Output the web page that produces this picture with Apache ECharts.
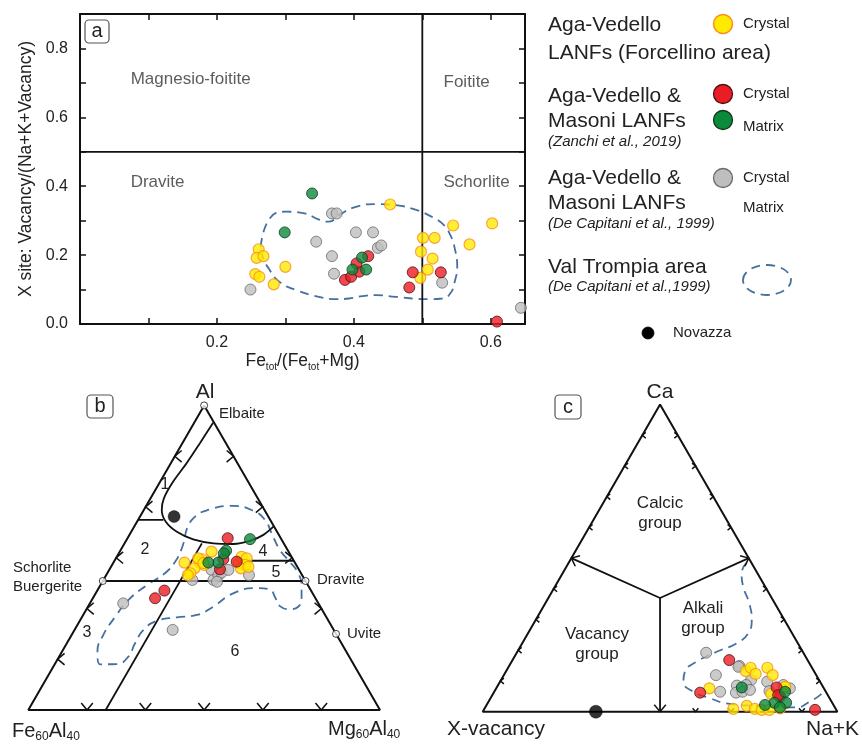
<!DOCTYPE html>
<html><head><meta charset="utf-8">
<script src="https://cdn.jsdelivr.net/npm/echarts@6/dist/echarts.min.js"></script>
<style>html,body{margin:0;padding:0;background:#fff}#c{width:862px;height:745px}</style>
</head><body><div id="c"></div>
<script>
// ---------------- Panel a : [Fe_tot/(Fe_tot+Mg), X-site vacancy/(Na+K+vacancy)]
const xTickLabels = ['0.2', '0.4', '0.6'];
const yTickLabels = ['0.0', '0.2', '0.4', '0.6', '0.8'];
const aRegionNames = ['Magnesio-foitite', 'Foitite', 'Dravite', 'Schorlite'];
const aYellow = [[0.261,0.217],[0.258,0.192],[0.268,0.197],[0.256,0.145],[0.262,0.137],[0.283,0.115],[0.300,0.166],
  [0.453,0.347],[0.501,0.250],[0.518,0.250],[0.498,0.210],[0.515,0.190],[0.508,0.158],[0.497,0.134],
  [0.545,0.286],[0.602,0.292],[0.569,0.231]];
const aRed = [[0.387,0.128],[0.396,0.137],[0.408,0.152],[0.404,0.176],[0.421,0.197],[0.486,0.150],[0.481,0.106],[0.527,0.150],[0.609,0.007]];
const aGreen = [[0.339,0.379],[0.299,0.266],[0.412,0.193],[0.398,0.158],[0.418,0.158]];
const aGray = [[0.249,0.100],[0.368,0.321],[0.375,0.321],[0.345,0.239],[0.403,0.266],[0.428,0.266],[0.435,0.221],[0.440,0.228],
  [0.368,0.197],[0.371,0.146],[0.529,0.120],[0.644,0.047]];
const aValTrompia = [[0.264,0.224],[0.277,0.306],[0.301,0.326],[0.328,0.321],[0.349,0.303],[0.364,0.297],[0.378,0.316],[0.403,0.340],
  [0.432,0.348],[0.461,0.345],[0.490,0.332],[0.509,0.316],[0.529,0.292],[0.541,0.258],[0.548,0.214],[0.551,0.166],[0.548,0.128],
  [0.541,0.089],[0.529,0.074],[0.509,0.072],[0.461,0.079],[0.432,0.084],[0.412,0.081],[0.393,0.074],[0.374,0.072],[0.349,0.079],
  [0.315,0.099],[0.291,0.123],[0.277,0.157],[0.267,0.195],[0.264,0.224]];

// ---------------- Panel b : ternary [Al, Fe60Al40, Mg60Al40]
const bYellow = [[0.520,0.219,0.261],[0.484,0.314,0.202],[0.495,0.258,0.247],[0.484,0.270,0.246],[0.476,0.262,0.262],[0.465,0.295,0.240],
  [0.449,0.315,0.236],[0.443,0.325,0.232],[0.498,0.268,0.234],[0.482,0.261,0.257],[0.503,0.142,0.355],[0.498,0.130,0.372],[0.482,0.160,0.358],
  [0.476,0.146,0.378],[0.465,0.163,0.372],[0.470,0.139,0.391]];
const bRed = [[0.367,0.456,0.177],[0.392,0.417,0.191],[0.564,0.151,0.285],[0.495,0.198,0.307],[0.462,0.224,0.314],[0.487,0.164,0.349]];
const bGreen = [[0.561,0.089,0.350],[0.523,0.176,0.301],[0.514,0.187,0.299],[0.484,0.218,0.298],[0.484,0.246,0.270]];
const bGray = [[0.350,0.555,0.095],[0.263,0.458,0.279],[0.427,0.320,0.253],[0.460,0.249,0.291],[0.427,0.260,0.313],[0.443,0.238,0.319],
  [0.451,0.225,0.324],[0.421,0.253,0.326],[0.460,0.201,0.339],[0.443,0.151,0.406]];
const bNovazza = [[0.635,0.268,0.097]];
const bEndMembers = [[1,0,0],[0.4235,0.5765,0],[0.4235,0,0.5765],[0.25,0,0.75]]; // Elbaite, Schorlite-Buergerite, Dravite, Uvite
const bCurve = [[0.943,0.003,0.054],[0.876,0.074,0.050],[0.810,0.145,0.045],[0.750,0.213,0.037],[0.695,0.267,0.038],[0.657,0.292,0.051],
  [0.618,0.300,0.082],[0.585,0.285,0.130],[0.560,0.251,0.189],[0.547,0.200,0.253],[0.545,0.145,0.310],[0.555,0.092,0.353],
  [0.575,0.044,0.381],[0.602,0.002,0.396]];
const bSchDrv = [[0.4235,0.5765,0],[0.4235,0,0.5765]];
const bDiagonal = [[0,0.78,0.22],[0.547,0.233,0.22]];
const bLeftShort = [[0.624,0.376,0],[0.624,0.304,0.072]];
const bRightShort = [[0.49,0.15,0.36],[0.49,0,0.51]];
const bTicks = [0.167,0.333,0.5,0.667,0.833];
const bRightTicks = [0.333,0.5,0.667,0.833];
const bValTrompia = [[0.569,0.270,0.161],[0.624,0.223,0.153],[0.659,0.154,0.187],[0.670,0.082,0.248],[0.654,0.033,0.313],[0.624,0.015,0.361],
  [0.580,0.018,0.402],[0.525,0.022,0.453],[0.487,0.013,0.500],[0.449,0.008,0.543],[0.410,0.018,0.572],[0.372,0.037,0.591],[0.339,0.063,0.598],
  [0.331,0.091,0.578],[0.341,0.114,0.545],[0.372,0.113,0.515],[0.396,0.115,0.489],[0.400,0.151,0.449],[0.383,0.226,0.391],[0.339,0.305,0.356],
  [0.312,0.365,0.323],[0.304,0.426,0.270],[0.293,0.488,0.219],[0.263,0.541,0.196],[0.219,0.587,0.194],[0.175,0.628,0.197],[0.151,0.673,0.176],
  [0.150,0.721,0.129],[0.191,0.708,0.101],[0.246,0.664,0.090],[0.306,0.600,0.094],[0.361,0.535,0.104],[0.410,0.458,0.132],[0.449,0.387,0.164],
  [0.487,0.339,0.174],[0.531,0.298,0.171],[0.569,0.270,0.161]];

// ---------------- Panel c : ternary [Ca, X-vacancy, Na+K]
const cYellow = [[0.132,0.192,0.676],[0.143,0.173,0.684],[0.123,0.169,0.708],[0.143,0.126,0.731],[0.119,0.123,0.758],[0.076,0.323,0.601],
  [0.079,0.108,0.813],[0.058,0.158,0.784],[0.081,0.107,0.812],[0.009,0.289,0.702],[0.019,0.246,0.735],[0.009,0.228,0.763],[0.006,0.210,0.784],
  [0.006,0.189,0.805],[0.011,0.156,0.833]];
const cRed = [[0.168,0.221,0.611],[0.062,0.356,0.582],[0.079,0.132,0.789],[0.049,0.137,0.814],[0.054,0.140,0.806],[0.006,0.060,0.934]];
const cGreen = [[0.079,0.230,0.691],[0.029,0.130,0.841],[0.029,0.163,0.808],[0.022,0.193,0.785],[0.014,0.155,0.831],[0.065,0.115,0.820]];
const cGray = [[0.192,0.274,0.534],[0.149,0.202,0.649],[0.146,0.206,0.648],[0.103,0.192,0.705],[0.087,0.214,0.699],[0.085,0.241,0.674],
  [0.062,0.255,0.683],[0.065,0.235,0.700],[0.071,0.211,0.718],[0.065,0.298,0.637],[0.119,0.283,0.598],[0.098,0.149,0.753],[0.067,0.158,0.775],
  [0.087,0.109,0.804],[0.076,0.096,0.828]];
const cNovazza = [[0,0.681,0.319]];
const cCentre = [0.37,0.315,0.315];
const cEdgeMids = [[0.5,0.5,0],[0.5,0,0.5],[0,0.5,0.5]];
const cSideTicks = [0.1,0.2,0.3,0.4,0.6,0.7,0.8,0.9];
const cBaseTicks = [0.6,0.7,0.8,0.9];
const cValTrompia = [[0.485,0.013,0.502],[0.450,0.045,0.505],[0.407,0.062,0.531],[0.353,0.072,0.575],[0.299,0.092,0.609],[0.255,0.124,0.621],
  [0.223,0.172,0.605],[0.195,0.243,0.562],[0.163,0.315,0.522],[0.130,0.365,0.505],[0.098,0.385,0.517],[0.065,0.374,0.561],[0.044,0.337,0.619],
  [0.027,0.299,0.674],[0.019,0.208,0.773],[0.014,0.108,0.878],[0.033,0.061,0.906],[0.054,0.022,0.924],[0.071,0.000,0.929]];

// ---------------- helpers
const GA = 0, GB = 2, GC = 3; // axis indices for panels a, b, c
const FONT = '"Liberation Sans", Arial, Helvetica, sans-serif';
const S = Math.sqrt(3) / 2;
const tern = p => [p[2] + p[0] / 2, p[0] * S];
const T = arr => arr.map(tern);
const ST = {
  yellow: {color:'#FFEA00', borderColor:'#F7901E', borderWidth:1.2},
  red: {color:'#EC1C24', borderColor:'#4a1212', borderWidth:1},
  green: {color:'#0B8A3C', borderColor:'#16361b', borderWidth:1},
  gray: {color:'#BEBEBE', borderColor:'#6a6a6a', borderWidth:1},
  black: {color:'#000', borderColor:'#000', borderWidth:0.5}
};
const DASH = {color:'#45709f', width:1.8, type:[9,6]};
function scat(data, g, st, size, z) {
  return {type:'scatter', xAxisIndex:g, yAxisIndex:g, data, symbolSize:size, itemStyle:st, clip:false, silent:true, z:z || 5};
}
function ln(data, g, extra) {
  return Object.assign({type:'line', xAxisIndex:g, yAxisIndex:g, data, symbol:'none', showSymbol:false, clip:false, silent:true,
    lineStyle:{color:'#111', width:1.8}, z:3}, extra || {});
}
function chevrons(data, g) {
  return {type:'custom', xAxisIndex:g, yAxisIndex:g, data, clip:false, silent:true, z:4,
    renderItem(params, api) {
      const p = api.coord([api.value(0), api.value(1)]);
      const a = api.value(2) * Math.PI / 180, L = api.value(3);
      const bx = -Math.cos(a), by = Math.sin(a), sp = 40 * Math.PI / 180;
      const r = s => [bx * Math.cos(s) - by * Math.sin(s), bx * Math.sin(s) + by * Math.cos(s)];
      const r1 = r(sp), r2 = r(-sp);
      return {type:'polyline', shape:{points:[[p[0] + r1[0] * L, p[1] + r1[1] * L], [p[0], p[1]], [p[0] + r2[0] * L, p[1] + r2[1] * L]]},
        style:{stroke:'#111', lineWidth:1.5, fill:null}};
    }};
}
const chev = (p, ang, len) => { const q = tern(p); return [q[0], q[1], ang, len]; };
const angleTo = (from, to) => { const a = tern(from), b = tern(to); return Math.atan2(b[1] - a[1], b[0] - a[0]) * 180 / Math.PI; };

const bChevData = [].concat(
  bTicks.map(f => chev([f, 1 - f, 0], 180, 9)),
  bRightTicks.map(f => chev([f, 0, 1 - f], 0, 9)),
  bTicks.map(f => chev([0, 1 - f, f], 270, 9)));
const cChevData = [].concat(
  cSideTicks.map(f => chev([f, 1 - f, 0], 180, 4.5)),
  cSideTicks.map(f => chev([f, 0, 1 - f], 0, 4.5)),
  cBaseTicks.map(f => chev([0, 1 - f, f], 270, 4.5)),
  cEdgeMids.map(m => chev(m, angleTo(cCentre, m), 9)));

const fmt = list => v => {
  if (Math.abs(v * 10 - Math.round(v * 10)) > 1e-6) return '';
  const s = v.toFixed(1); return list.indexOf(s) >= 0 ? s : '';
};
const frameAxis = {show:true, onZero:false, lineStyle:{color:'#111', width:2}};
const frameTick = {show:true, inside:true, length:6, lineStyle:{color:'#111', width:1.5}};
const hidden = g => ({gridIndex:g, type:'value', min:0, max:1, show:false});

function txt(x, y, text, size, extra) {
  return {type:'text', x, y, silent:true, z:10,
    style:Object.assign({text, fill:'#222', font:size + 'px ' + FONT, textAlign:'left', align:'left',
      textVerticalAlign:'middle', verticalAlign:'middle'}, extra || {})};
}
function richTxt(x, y, text, big, small) {
  return {type:'text', x, y, silent:true, z:10,
    style:{text, textAlign:'left', align:'left', textVerticalAlign:'middle', verticalAlign:'middle',
      rich:{m:{fontSize:big, fontFamily:FONT, fill:'#222', color:'#222', lineHeight:big + 4, verticalAlign:'middle'},
            s:{fontSize:small, fontFamily:FONT, fill:'#222', color:'#222', lineHeight:small + 2, verticalAlign:'bottom'}}}};
}
function box(x, y, w, h, letter) {
  return [{type:'rect', shape:{x, y, width:w, height:h, r:4}, style:{fill:'#fff', stroke:'#555', lineWidth:1.2}, z:9, silent:true},
          txt(x + w / 2, y + h / 2, letter, 20, {textAlign:'center', align:'center'})];
}
function dot(cx, cy, r, st) {
  return {type:'circle', shape:{cx, cy, r}, style:{fill:st.color, stroke:st.borderColor, lineWidth:st.borderWidth + 0.3}, z:10, silent:true};
}
const C = {textAlign:'center', align:'center'};

const graphic = [].concat(
  box(85, 20, 24, 23, 'a'), box(87, 395, 26, 23, 'b'), box(555, 395, 26, 24, 'c'),
  // legend
  txt(548, 25, 'Aga-Vedello', 21), txt(548, 53, 'LANFs (Forcellino area)', 21),
  txt(548, 96, 'Aga-Vedello &', 21), txt(548, 121, 'Masoni LANFs', 21), txt(548, 142, '(Zanchi et al., 2019)', 15, {font:'italic 15px ' + FONT}),
  txt(548, 178, 'Aga-Vedello &', 21), txt(548, 203, 'Masoni LANFs', 21), txt(548, 224, '(De Capitani et al., 1999)', 15, {font:'italic 15px ' + FONT}),
  txt(548, 267, 'Val Trompia area', 21), txt(548, 287, '(De Capitani et al.,1999)', 15, {font:'italic 15px ' + FONT}),
  dot(723, 24, 9.5, ST.yellow), dot(723, 94, 9.5, ST.red), dot(723, 120, 9.5, ST.green), dot(723, 178, 9.5, ST.gray),
  txt(743, 24, 'Crystal', 15), txt(743, 94, 'Crystal', 15), txt(743, 127, 'Matrix', 15), txt(743, 178, 'Crystal', 15), txt(743, 208, 'Matrix', 15),
  [{type:'ellipse', shape:{cx:767, cy:280, rx:24, ry:15}, style:{fill:null, stroke:DASH.color, lineWidth:1.8, lineDash:[9,6]}, z:10, silent:true}],
  dot(648, 333, 6, ST.black), txt(673, 333, 'Novazza', 15),
  // panel b labels
  txt(205, 392, 'Al', 21, C), txt(219, 414, 'Elbaite', 15),
  txt(13, 568, 'Schorlite', 15), txt(13, 587, 'Buergerite', 15), txt(317, 580, 'Dravite', 15), txt(347, 634, 'Uvite', 15),
  richTxt(12, 731, '{m|Fe}{s|60}{m|Al}{s|40}', 20, 12), richTxt(328, 729, '{m|Mg}{s|60}{m|Al}{s|40}', 20, 12),
  txt(165, 485, '1', 16, C), txt(145, 550, '2', 16, C), txt(87, 633, '3', 16, C),
  txt(263, 552, '4', 16, C), txt(276, 573, '5', 16, C), txt(235, 652, '6', 16, C),
  // panel c labels
  txt(660, 392, 'Ca', 21, C),
  txt(660, 503, 'Calcic', 17, C), txt(660, 523, 'group', 17, C),
  txt(703, 608, 'Alkali', 17, C), txt(703, 628, 'group', 17, C),
  txt(597, 634, 'Vacancy', 17, C), txt(597, 654, 'group', 17, C),
  txt(447, 729, 'X-vacancy', 21), txt(806, 729, 'Na+K', 21)
);

const aLabelSeries = {type:'scatter', xAxisIndex:GA, yAxisIndex:GA, symbolSize:0, silent:true, z:6,
  data:[[0.074,0.71],[0.531,0.703],[0.074,0.412],[0.531,0.412]].map((v, i) => ({name:aRegionNames[i], value:v})),
  label:{show:true, formatter:'{b}', position:[0,0], align:'left', verticalAlign:'middle', fontSize:17, color:'#333', fontFamily:FONT}};

const option = {
  backgroundColor:'#fff', animation:false,
  grid:[
    {left:80, top:14, width:445, height:310},
    {left:28.3, top:358.3, width:351.7, height:351.7},
    {left:482.7, top:357, width:354.7, height:354.7}
  ],
  xAxis:[
    {gridIndex:0, type:'value', min:0, max:0.65, interval:0.1, position:'bottom', axisLine:frameAxis, axisTick:frameTick, splitLine:{show:false},
     axisLabel:{margin:11, fontSize:16, color:'#222', fontFamily:FONT, formatter:fmt(xTickLabels), showMaxLabel:false},
     name:'{m|Fe}{s|tot}{m|/(Fe}{s|tot}{m|+Mg)}', nameLocation:'middle', nameGap:20,
     nameTextStyle:{rich:{m:{fontSize:17.5, fontFamily:FONT, color:'#222', lineHeight:22, verticalAlign:'middle'},
                          s:{fontSize:10, fontFamily:FONT, color:'#222', lineHeight:12, verticalAlign:'bottom'}}}},
    {gridIndex:0, type:'value', min:0, max:0.65, interval:0.1, position:'top', axisLine:frameAxis, axisTick:frameTick,
     axisLabel:{show:false}, splitLine:{show:false}},
    hidden(1), hidden(2)
  ],
  yAxis:[
    {gridIndex:0, type:'value', min:0, max:0.9, interval:0.1, position:'left', axisLine:frameAxis, axisTick:frameTick, splitLine:{show:false},
     axisLabel:{margin:12, fontSize:16, color:'#222', fontFamily:FONT, formatter:fmt(yTickLabels)},
     name:'X site: Vacancy/(Na+K+Vacancy)', nameLocation:'middle', nameGap:43,
     nameTextStyle:{fontSize:17.5, color:'#222', fontFamily:FONT}},
    {gridIndex:0, type:'value', min:0, max:0.9, interval:0.1, position:'right', axisLine:frameAxis, axisTick:frameTick,
     axisLabel:{show:false}, splitLine:{show:false}},
    hidden(1), hidden(2)
  ],
  graphic,
  series:[
    // panel a
    ln([[0.5,0],[0.5,0.9]], GA), ln([[0,0.5],[0.65,0.5]], GA),
    ln(aValTrompia, GA, {smooth:0.5, lineStyle:DASH, z:2}),
    aLabelSeries,
    scat(aGray, GA, ST.gray, 11), scat(aYellow, GA, ST.yellow, 11), scat(aRed, GA, ST.red, 11), scat(aGreen, GA, ST.green, 11),
    // panel b
    ln(T([[1,0,0],[0,1,0],[0,0,1],[1,0,0]]), GB, {lineStyle:{color:'#111', width:2}}),
    ln(T(bSchDrv), GB), ln(T(bDiagonal), GB), ln(T(bLeftShort), GB), ln(T(bRightShort), GB),
    ln(T(bCurve), GB, {smooth:0.3}),
    ln(T(bValTrompia), GB, {smooth:0.5, lineStyle:DASH, z:2}),
    chevrons(bChevData, GB),
    scat(T(bEndMembers), GB, {color:'#fff', borderColor:'#111', borderWidth:1}, 7, 6),
    scat(T(bGray), GB, ST.gray, 11), scat(T(bYellow), GB, ST.yellow, 11), scat(T(bRed), GB, ST.red, 11), scat(T(bGreen), GB, ST.green, 11),
    scat(T(bNovazza), GB, ST.black, 12),
    // panel c
    ln(T([[1,0,0],[0,1,0],[0,0,1],[1,0,0]]), GC, {lineStyle:{color:'#111', width:2}}),
    ...cEdgeMids.map(m => ln(T([cCentre, m]), GC)),
    ln(T(cValTrompia), GC, {smooth:0.5, lineStyle:DASH, z:2}),
    chevrons(cChevData, GC),
    scat(T(cGray), GC, ST.gray, 11), scat(T(cYellow), GC, ST.yellow, 11), scat(T(cRed), GC, ST.red, 11), scat(T(cGreen), GC, ST.green, 11),
    scat(T(cNovazza), GC, ST.black, 13)
  ]
};
const chart = echarts.init(document.getElementById('c'));
chart.setOption(option);
</script></body></html>
